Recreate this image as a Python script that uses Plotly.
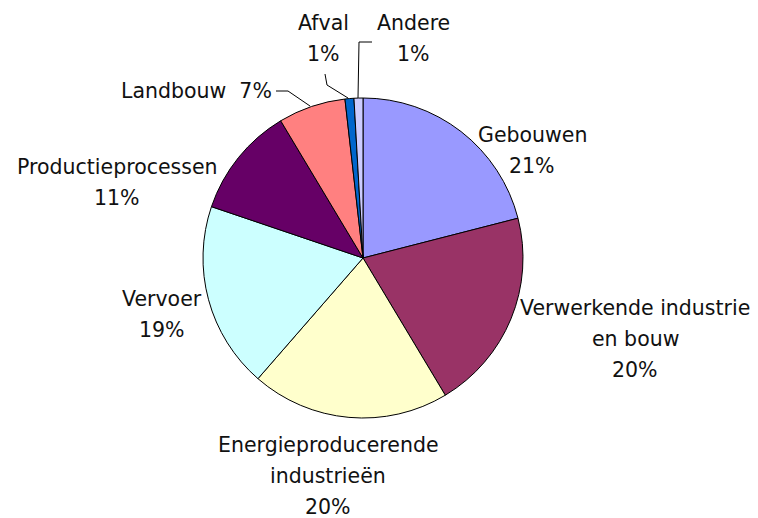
import plotly.graph_objects as go

# ---- data ----
categories = ["Gebouwen", "Verwerkende industrie en bouw", "Energieproducerende industrieën",
              "Vervoer", "Productieprocessen", "Landbouw", "Afval", "Andere"]
label_lines = [["Gebouwen"], ["Verwerkende industrie", "en bouw"], ["Energieproducerende", "industrieën"],
               ["Vervoer"], ["Productieprocessen"], ["Landbouw"], ["Afval"], ["Andere"]]
values = [21.0, 20.4, 20.0, 18.8, 11.2, 6.8, 0.9, 0.9]
colors = ["#9999FF", "#993366", "#FFFFCC", "#CCFFFF", "#660066", "#FF8080", "#0066CC", "#CCCCFF"]

OFF = 8  # page body margin
W, H = 758 - OFF, 518 - OFF
CX, CY, R = 363, 258, 160


def px(x, y):
    return (x - OFF) / W, 1 - (y - OFF) / H


dx0, dy1 = px(CX - R, CY - R)
dx1, dy0 = px(CX + R, CY + R)
fig = go.Figure(go.Pie(
    labels=categories, values=values, sort=False, direction="clockwise", rotation=0,
    marker=dict(colors=colors, line=dict(color="black", width=1)),
    textinfo="none", hoverinfo="label+percent",
    domain=dict(x=[dx0, dx1], y=[dy0, dy1]),
))

total = sum(values)
pcts = [f"{round(v / total * 100)}%" for v in values]

# label anchor positions (pixel centres of first line)
label_pos = [(532, 135), (635, 308), (328, 445), (162, 299), (117, 167), None, (323, 23), (413, 23)]
LS = 31
font = dict(family="DejaVu Sans, Liberation Sans, sans-serif", size=20.5, color="#111111")
ann = []
for i, lines in enumerate(label_lines):
    if label_pos[i] is None:
        continue
    x0, y0 = label_pos[i]
    for k, t in enumerate(lines + [pcts[i]]):
        x, y = px(x0, y0 + k * LS)
        ann.append(dict(x=x, y=y, xref="paper", yref="paper", text=t, showarrow=False,
                        xanchor="center", yanchor="middle", font=font))
# Landbouw single line
x, y = px(274, 91)
ann.append(dict(x=x, y=y, xref="paper", yref="paper", text=f"{label_lines[5][0]}  {pcts[5]}",
                showarrow=False, xanchor="right", yanchor="middle", font=font))


def path(points):
    d = ""
    for j, (a, b) in enumerate(points):
        xx, yy = px(a, b)
        d += ("M" if j == 0 else "L") + f"{xx},{yy} "
    return d


leaders = [
    [(276, 91), (288, 91), (310, 106)],
    [(348, 98), (327, 85), (325, 74)],
    [(358, 98), (359, 42), (372, 42)],
]
shapes = [dict(type="path", xref="paper", yref="paper", path=path(p),
               line=dict(color="black", width=1)) for p in leaders]

fig.update_layout(width=W, height=H, margin=dict(l=0, r=0, t=0, b=0),
                  paper_bgcolor="white", plot_bgcolor="white", showlegend=False,
                  annotations=ann, shapes=shapes)
fig.write_html("out.html")
